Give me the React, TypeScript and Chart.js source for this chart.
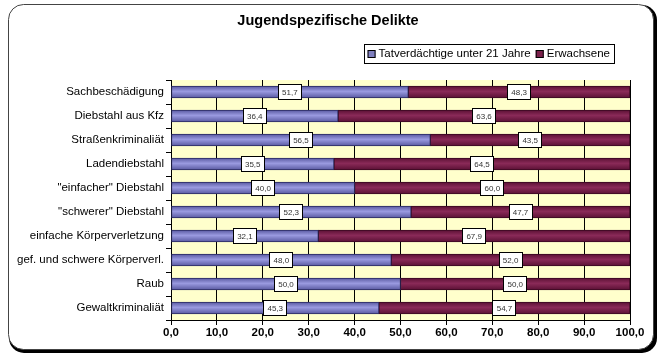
import React, { useEffect, useRef } from "react";
import { Chart, registerables } from "chart.js";

Chart.register(...registerables);

const categories = [
  "Sachbeschädigung",
  "Diebstahl aus Kfz",
  "Straßenkriminaliät",
  "Ladendiebstahl",
  "\"einfacher\" Diebstahl",
  "\"schwerer\" Diebstahl",
  "einfache Körperverletzung",
  "gef. und schwere Körperverl.",
  "Raub",
  "Gewaltkriminaliät",
];
const youthValues = [51.7, 36.4, 56.5, 35.5, 40.0, 52.3, 32.1, 48.0, 50.0, 45.3];
const adultValues = [48.3, 63.6, 43.5, 64.5, 60.0, 47.7, 67.9, 52.0, 50.0, 54.7];
const seriesNames = ["Tatverdächtige unter 21 Jahre", "Erwachsene"];
const xTicks = [0, 10, 20, 30, 40, 50, 60, 70, 80, 90, 100];
const chartTitle = "Jugendspezifische Delikte";

const FONT = "'Liberation Sans', Arial, sans-serif";
const fmt = (v: number) => v.toFixed(1).replace(".", ",");

function roundRect(ctx: CanvasRenderingContext2D, x: number, y: number, w: number, h: number, r: number) {
  ctx.beginPath();
  ctx.moveTo(x + r, y);
  ctx.lineTo(x + w - r, y);
  ctx.arcTo(x + w, y, x + w, y + r, r);
  ctx.lineTo(x + w, y + h - r);
  ctx.arcTo(x + w, y + h, x + w - r, y + h, r);
  ctx.lineTo(x + r, y + h);
  ctx.arcTo(x, y + h, x, y + h - r, r);
  ctx.lineTo(x, y + r);
  ctx.arcTo(x, y, x + r, y, r);
  ctx.closePath();
}

const framePlugin = {
  id: "frame",
  beforeDraw(chart: any) {
    const ctx = chart.ctx as CanvasRenderingContext2D;
    ctx.save();
    ctx.fillStyle = "#ffffff";
    ctx.fillRect(0, 0, chart.width, chart.height);
    ctx.fillStyle = "#000000";
    roundRect(ctx, 9, 5, 648, 348, 15);
    ctx.fill();
    ctx.fillStyle = "#ffffff";
    roundRect(ctx, 8.5, 4.5, 645, 345, 15);
    ctx.fill();
    ctx.strokeStyle = "#444";
    ctx.lineWidth = 1;
    ctx.stroke();
    const a = chart.chartArea;
    ctx.fillStyle = "#FFFFCC";
    ctx.fillRect(a.left, a.top, a.right - a.left, a.bottom - a.top);
    ctx.restore();
  },
  afterDraw(chart: any) {
    const ctx = chart.ctx as CanvasRenderingContext2D;
    ctx.save();
    ctx.fillStyle = "#000";
    ctx.font = `bold 14.5px ${FONT}`;
    ctx.textAlign = "center";
    ctx.textBaseline = "middle";
    ctx.fillText(chartTitle, 328, 21);

    ctx.font = `11.5px ${FONT}`;
    ctx.textAlign = "left";
    const items = chart.data.datasets.map((d: any) => ({ text: d.label, color: d.legendColor }));
    const box = 8;
    const gap = 3;
    const sep = 5;
    const widths = items.map((it: any) => box + gap + ctx.measureText(it.text).width);
    const total = widths.reduce((s: number, w: number) => s + w, 0) + sep * (items.length - 1) + 8;
    const right = 614;
    const left = right - total;
    const top = 44;
    const h = 19;
    ctx.fillStyle = "#fff";
    ctx.fillRect(left, top, total, h);
    ctx.strokeStyle = "#000";
    ctx.lineWidth = 1;
    ctx.strokeRect(Math.round(left) + 0.5, top + 0.5, Math.round(total), h);
    let x = left + 4;
    const cy = top + h / 2 + 0.5;
    items.forEach((it: any, i: number) => {
      ctx.fillStyle = it.color;
      ctx.fillRect(x, cy - box / 2, box, box);
      ctx.strokeStyle = "#000";
      ctx.strokeRect(x + 0.5, cy - box / 2 + 0.5, box - 1, box - 1);
      ctx.fillStyle = "#000";
      ctx.fillText(it.text, x + box + gap, cy);
      x += widths[i] + sep;
    });

    ctx.font = `8px ${FONT}`;
    ctx.textAlign = "center";
    chart.data.datasets.forEach((ds: any, di: number) => {
      const meta = chart.getDatasetMeta(di);
      meta.data.forEach((bar: any, i: number) => {
        const v = ds.data[i];
        const mx = (bar.x + bar.base) / 2;
        const my = bar.y;
        const t = fmt(v);
        const tw = ctx.measureText(t).width;
        const bw = Math.round(tw + 8);
        const bh = 16;
        const bx = Math.round(mx - bw / 2);
        const by = Math.round(my - bh / 2);
        ctx.fillStyle = "#fff";
        ctx.fillRect(bx, by, bw, bh);
        ctx.strokeStyle = "#000";
        ctx.strokeRect(bx + 0.5, by + 0.5, bw - 1, bh - 1);
        ctx.fillStyle = "#333";
        ctx.fillText(t, mx, my + 0.5);
      });
    });
    ctx.restore();
  },
};

function gradientFor(light: string, mid: string, dark: string) {
  return (c: any) => {
    const chart = c.chart;
    const ys = chart.scales && chart.scales.y;
    if (!ys || c.dataIndex === undefined) return mid;
    const y = ys.getPixelForValue(c.dataIndex);
    if (!isFinite(y)) return mid;
    const g = chart.ctx.createLinearGradient(0, y - 6, 0, y + 6);
    g.addColorStop(0, dark);
    g.addColorStop(0.45, light);
    g.addColorStop(1, dark);
    return g;
  };
}

export default function App() {
  const ref = useRef<HTMLCanvasElement>(null);
  useEffect(() => {
    if (!ref.current) return;
    const chart = new Chart(ref.current, {
      type: "bar",
      data: {
        labels: categories,
        datasets: [
          {
            label: seriesNames[0],
            data: youthValues,
            backgroundColor: gradientFor("#9A9AE0", "#8080C8", "#5858A0"),
            borderColor: "#2A2A60",
            borderWidth: 1,
            borderSkipped: false,
            barThickness: 12,
            legendColor: "#8080C0",
          } as any,
          {
            label: seriesNames[1],
            data: adultValues,
            backgroundColor: gradientFor("#8A2A58", "#7A1F4A", "#5A1034"),
            borderColor: "#3A0820",
            borderWidth: 1,
            borderSkipped: false,
            barThickness: 12,
            legendColor: "#7A1F4A",
          } as any,
        ],
      },
      options: {
        indexAxis: "y",
        animation: false,
        responsive: false,
        layout: { padding: { top: 80, right: 33, left: 0, bottom: 0 } },
        plugins: {
          legend: { display: false },
          title: { display: false },
          tooltip: { enabled: false },
        },
        scales: {
          x: {
            stacked: true,
            min: 0,
            max: 100,
            afterBuildTicks: (s: any) => {
              s.ticks = xTicks.map((v) => ({ value: v }));
            },
            afterFit: (s: any) => {
              s.height = 42;
            },
            ticks: {
              color: "#000",
              font: { family: FONT, size: 11.5, weight: "bold" },
              padding: 1,
              callback: (v: any) => fmt(Number(v)),
              maxRotation: 0,
            },
            grid: {
              color: "#000",
              lineWidth: 1,
              tickLength: 5,
              drawOnChartArea: true,
            },
            border: { display: true, color: "#000", width: 1 },
          },
          y: {
            stacked: true,
            afterFit: (s: any) => {
              s.width = 171;
            },
            ticks: {
              color: "#000",
              font: { family: FONT, size: 11.5 },
              padding: 2,
            },
            grid: {
              offset: true,
              color: "#000",
              drawOnChartArea: false,
              tickLength: 5,
            },
            border: { display: true, color: "#000", width: 1 },
          },
        },
      },
      plugins: [framePlugin],
    });
    return () => chart.destroy();
  }, []);
  return (
    <div style={{ position: "fixed", left: 0, top: 0 }}>
      <canvas ref={ref} width={663} height={362} style={{ display: "block" }} />
    </div>
  );
}
